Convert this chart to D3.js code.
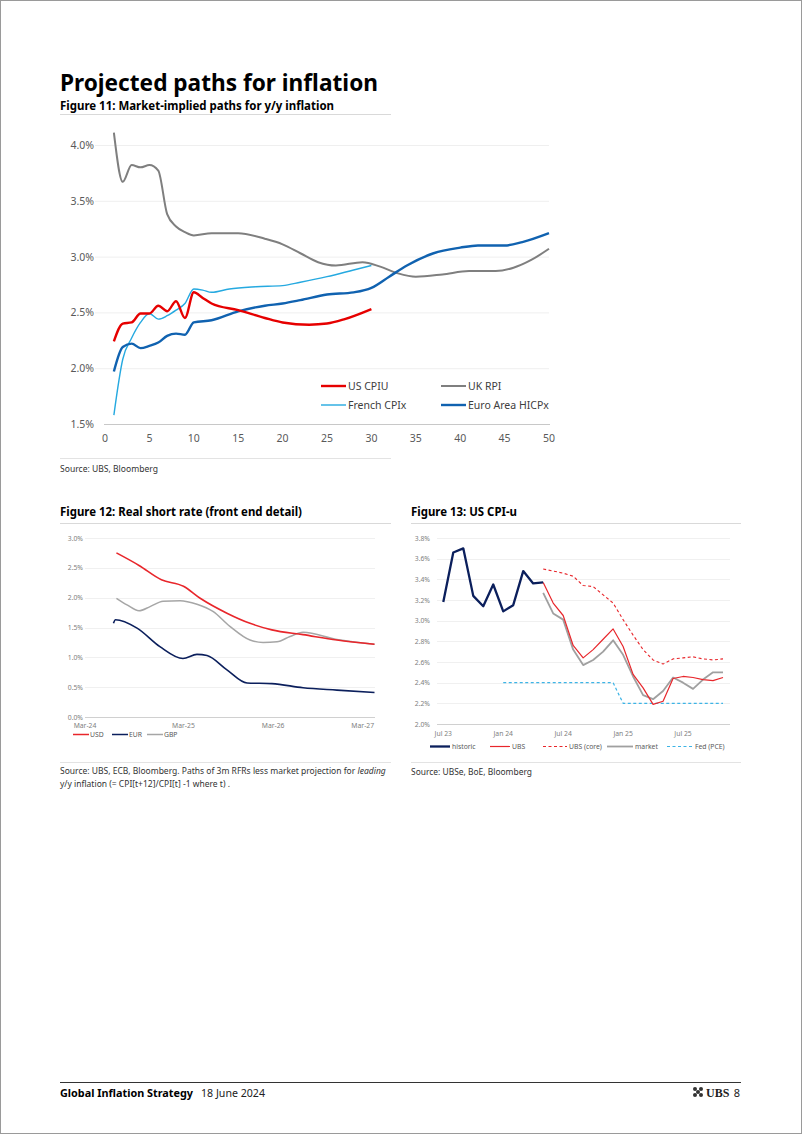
<!DOCTYPE html>
<html><head><meta charset="utf-8">
<script src="https://cdn.jsdelivr.net/npm/d3@7"></script>
<style>
body{margin:0;background:#fff;}
svg{display:block;font-family:"Noto Sans",sans-serif;}
</style></head><body>
<svg id="c" width="802" height="1134"></svg>
<script>
// ---------- Figure 11 data (horizon in years, y/y inflation %) ----------
const usCpiu = [[1,2.24],[2,2.40],[3,2.41],[4,2.49],[5,2.49],[6,2.56],[7,2.51],[8,2.60],[9,2.45],[10,2.68],[11,2.63],[12,2.58],[15,2.52],[18,2.45],[20,2.41],[23,2.39],[25,2.40],[27,2.44],[30,2.53]];
const ukRpi = [[1,4.11],[2,3.67],[3,3.82],[4,3.80],[5,3.82],[6,3.77],[7,3.38],[8,3.27],[9,3.22],[10,3.19],[12,3.21],[15,3.21],[18,3.16],[20,3.11],[22,3.03],[24,2.95],[26,2.92],[29,2.95],[31,2.91],[33,2.85],[35,2.82],[38,2.84],[41,2.87],[44,2.87],[46,2.90],[48,2.97],[50,3.07]];
const frenchCpix = [[1,1.58],[2,2.08],[3,2.27],[4,2.41],[5,2.49],[6,2.44],[7,2.47],[8,2.52],[9,2.58],[10,2.71],[11,2.70],[12,2.68],[14,2.71],[17,2.73],[20,2.74],[22,2.77],[25,2.82],[28,2.88],[30,2.92]];
const euroHicpx = [[1,1.97],[2,2.19],[3,2.22],[4,2.18],[5,2.20],[6,2.23],[7,2.29],[8,2.31],[9,2.30],[10,2.41],[12,2.43],[15,2.51],[18,2.56],[20,2.58],[22,2.61],[25,2.66],[28,2.68],[30,2.72],[32,2.82],[34,2.92],[37,3.03],[40,3.08],[42,3.10],[45,3.10],[47,3.13],[50,3.21]];
const f11XTicks = [0,5,10,15,20,25,30,35,40,45,50];
const f11YTicks = [1.5,2.0,2.5,3.0,3.5,4.0];

// ---------- Figure 12 data (date, real short rate %) ----------
const usdPath = [["2024-06-01",2.75],["2024-09-01",2.54],["2024-12-01",2.30],["2025-03-01",2.19],["2025-05-08",1.99],["2025-08-25",1.74],["2025-11-27",1.57],["2026-02-24",1.46],["2026-07-01",1.38],["2026-11-16",1.29],["2027-04-18",1.22]];
const eurPath = [["2024-05-20",1.57],["2024-05-28",1.63],["2024-08-24",1.49],["2024-11-25",1.18],["2025-02-27",0.98],["2025-04-25",1.05],["2025-06-05",1.03],["2025-08-25",0.79],["2025-11-15",0.57],["2026-02-24",0.56],["2026-07-01",0.49],["2026-11-16",0.45],["2027-04-18",0.41]];
const gbpPath = [["2024-06-01",1.99],["2024-07-14",1.88],["2024-09-01",1.78],["2024-10-16",1.85],["2024-12-08",1.94],["2025-02-15",1.95],["2025-04-25",1.89],["2025-06-29",1.77],["2025-09-06",1.52],["2025-11-27",1.29],["2026-01-19",1.25],["2026-03-17",1.26],["2026-05-09",1.35],["2026-07-01",1.42],["2026-11-16",1.30],["2027-04-18",1.22]];
const f12XTicks = [["2024-03-01","Mar-24"],["2025-03-01","Mar-25"],["2026-03-01","Mar-26"],["2027-03-01","Mar-27"]];
const f12YTicks = [0,0.5,1.0,1.5,2.0,2.5,3.0];

// ---------- Figure 13 data (monthly, Jul 23 .. Nov 25) ----------
const f13Months = ["Jul 23","Aug 23","Sep 23","Oct 23","Nov 23","Dec 23","Jan 24","Feb 24","Mar 24","Apr 24","May 24","Jun 24","Jul 24","Aug 24","Sep 24","Oct 24","Nov 24","Dec 24","Jan 25","Feb 25","Mar 25","Apr 25","May 25","Jun 25","Jul 25","Aug 25","Sep 25","Oct 25","Nov 25"];
const historic = [3.18,3.66,3.70,3.24,3.14,3.35,3.09,3.15,3.48,3.36,3.37];
const ubs = [null,null,null,null,null,null,null,null,null,null,3.37,3.17,3.05,2.76,2.64,2.72,2.82,2.92,2.75,2.48,2.35,2.19,2.22,2.44,2.46,2.45,2.43,2.42,2.45];
const ubsCore = [null,null,null,null,null,null,null,null,null,null,3.50,3.48,3.46,3.43,3.34,3.33,3.25,3.17,3.01,2.86,2.72,2.62,2.58,2.63,2.64,2.65,2.63,2.62,2.63];
const market = [null,null,null,null,null,null,null,null,null,null,3.27,3.07,3.01,2.72,2.57,2.62,2.70,2.81,2.67,2.46,2.28,2.24,2.32,2.45,2.40,2.34,2.43,2.50,2.50];
const fedPce = [null,null,null,null,null,null,2.4,2.4,2.4,2.4,2.4,2.4,2.4,2.4,2.4,2.4,2.4,2.4,2.2,2.2,2.2,2.2,2.2,2.2,2.2,2.2,2.2,2.2,2.2];
const f13XTicks = ["Jul 23","Jan 24","Jul 24","Jan 25","Jul 25"];
const f13YTicks = [2.0,2.2,2.4,2.6,2.8,3.0,3.2,3.4,3.6,3.8];

// ---------- drawing ----------
const svg = d3.select("#c");
svg.append("rect").attr("x",0.5).attr("y",0.5).attr("width",801).attr("height",1133).attr("fill","#fff").attr("stroke","#9a9a9a");

function fit(sel, w){
  const n = sel.node(); const L = n.getComputedTextLength();
  if (L > w) sel.attr("textLength", w).attr("lengthAdjust","spacingAndGlyphs");
  return sel;
}
function hline(x1,x2,y,c,w){ svg.append("line").attr("x1",x1).attr("x2",x2).attr("y1",y).attr("y2",y).attr("stroke",c).attr("stroke-width",w||1); }
function txt(x,y,s,size,opt){
  opt = opt||{};
  const t = svg.append("text").attr("x",x).attr("y",y).text(s).attr("font-size",size)
    .attr("fill",opt.fill||"#000").attr("font-weight",opt.weight||400).attr("text-anchor",opt.anchor||"start");
  if (opt.family) t.attr("font-family",opt.family);
  if (opt.w) fit(t,opt.w);
  return t;
}

// Header
txt(60,90.5,"Projected paths for inflation",24,{weight:700,w:318});
txt(60,109.5,"Figure 11: Market-implied paths for y/y inflation",11.5,{weight:700,w:274});
hline(60,391,114.5,"#d9d9d9",1);

// Figure 11
{
  const x = d3.scaleLinear().domain([0,50]).range([105,549]);
  const y = d3.scaleLinear().domain([1.5,4.0]).range([424,145]);
  const g = svg.append("g");
  g.selectAll(".gr").data(f11YTicks.filter(d=>d>1.5)).join("line")
    .attr("x1",95).attr("x2",549).attr("y1",d=>y(d)+0.5).attr("y2",d=>y(d)+0.5).attr("stroke","#efefef");
  g.append("line").attr("x1",104).attr("x2",550).attr("y1",424.5).attr("y2",424.5).attr("stroke","#c8c8c8").attr("stroke-width",1.2);
  g.selectAll(".yl").data(f11YTicks).join("text").attr("x",94).attr("y",d=>y(d)+4)
    .attr("text-anchor","end").attr("font-size",10.5).attr("fill","#595959").text(d=>d.toFixed(1)+"%");
  g.selectAll(".xl").data(f11XTicks).join("text").attr("x",d=>x(d)).attr("y",442)
    .attr("text-anchor","middle").attr("font-size",10.5).attr("fill","#595959").text(d=>d);
  const line = d3.line().x(d=>x(d[0])).y(d=>y(d[1])).curve(d3.curveMonotoneX);
  const series = [
    {name:"UK RPI",data:ukRpi,color:"#7f7f7f",w:2},
    {name:"French CPIx",data:frenchCpix,color:"#25a9e0",w:1.4},
    {name:"Euro Area HICPx",data:euroHicpx,color:"#1062b0",w:2.4},
    {name:"US CPIU",data:usCpiu,color:"#e60000",w:2.4}
  ];
  g.selectAll(".ln").data(series).join("path").attr("d",d=>line(d.data)).attr("fill","none")
    .attr("stroke",d=>d.color).attr("stroke-width",d=>d.w).attr("stroke-linejoin","round");
  const leg = [
    {s:series[3],x:321,y:386},{s:series[0],x:441,y:386},
    {s:series[1],x:321,y:405},{s:series[2],x:441,y:405}
  ];
  leg.forEach(l=>{
    g.append("line").attr("x1",l.x).attr("x2",l.x+25).attr("y1",l.y).attr("y2",l.y).attr("stroke",l.s.color).attr("stroke-width",l.s.w);
    g.append("text").attr("x",l.x+27).attr("y",l.y+4).attr("font-size",10.5).attr("fill","#404040").text(l.s.name);
  });
}
hline(60,391,458.5,"#e3e3e3",1);
txt(60,472,"Source: UBS, Bloomberg",9,{fill:"#333",w:98});

// Figure 12
txt(60,516,"Figure 12: Real short rate (front end detail)",12,{weight:700,w:242});
hline(60,391,523.5,"#d9d9d9",1);
{
  const pd = d3.timeParse("%Y-%m-%d");
  const x = d3.scaleTime().domain([pd("2024-01-25"),pd("2027-04-20")]).range([85,375]);
  const y = d3.scaleLinear().domain([0,3]).range([717,538]);
  const g = svg.append("g");
  g.selectAll(".gr").data(f12YTicks.filter(d=>d>0)).join("line")
    .attr("x1",85).attr("x2",375).attr("y1",d=>Math.round(y(d))+0.5).attr("y2",d=>Math.round(y(d))+0.5).attr("stroke","#f0f0f0");
  g.append("line").attr("x1",85).attr("x2",375).attr("y1",717.5).attr("y2",717.5).attr("stroke","#d0d0d0");
  g.selectAll(".yl").data(f12YTicks).join("text").attr("x",83).attr("y",d=>y(d)+2.5)
    .attr("text-anchor","end").attr("font-size",6.8).attr("fill","#808080").text(d=>d.toFixed(1)+"%");
  g.selectAll(".xl").data(f12XTicks).join("text").attr("x",(d,i)=>i===0?85:x(pd(d[0]))).attr("y",728)
    .attr("text-anchor","middle").attr("font-size",6.8).attr("fill","#808080").text(d=>d[1]);
  const line = d3.line().x(d=>x(pd(d[0]))).y(d=>y(d[1])).curve(d3.curveMonotoneX);
  const series = [
    {name:"GBP",data:gbpPath,color:"#a6a6a6",w:1.5},
    {name:"EUR",data:eurPath,color:"#0b1f5c",w:1.6},
    {name:"USD",data:usdPath,color:"#e8262b",w:1.6}
  ];
  g.selectAll(".ln").data(series).join("path").attr("d",d=>line(d.data)).attr("fill","none")
    .attr("stroke",d=>d.color).attr("stroke-width",d=>d.w);
  [{s:series[2],x:73},{s:series[1],x:112},{s:series[0],x:147}].forEach(l=>{
    g.append("line").attr("x1",l.x).attr("x2",l.x+16).attr("y1",734.5).attr("y2",734.5).attr("stroke",l.s.color).attr("stroke-width",1.5);
    g.append("text").attr("x",l.x+17).attr("y",737).attr("font-size",6.8).attr("fill","#595959").text(l.s.name);
  });
}
hline(60,391,762.5,"#e3e3e3",1);
{
  const t = svg.append("text").attr("x",60).attr("y",774).attr("font-size",8.5).attr("fill","#333");
  t.append("tspan").text("Source: UBS, ECB, Bloomberg. Paths of 3m RFRs less market projection for ");
  t.append("tspan").attr("font-style","italic").text("leading");
  fit(t,327);
  txt(60,786.8,"y/y inflation (= CPI[t+12]/CPI[t] -1 where t) .",8.5,{fill:"#333",w:183});
}

// Figure 13
txt(411,516,"Figure 13: US CPI-u",12,{weight:700,w:106});
hline(411,741,523.5,"#d9d9d9",1);
{
  const x = d3.scaleLinear().domain([-0.63,28.7]).range([437,730]);
  const y = d3.scaleLinear().domain([2.0,3.8]).range([724,538]);
  const g = svg.append("g");
  g.selectAll(".gr").data(f13YTicks.filter(d=>d>2.0)).join("line")
    .attr("x1",437).attr("x2",730).attr("y1",d=>Math.round(y(d))+0.5).attr("y2",d=>Math.round(y(d))+0.5).attr("stroke","#f0f0f0");
  g.append("line").attr("x1",437).attr("x2",730).attr("y1",724.5).attr("y2",724.5).attr("stroke","#d0d0d0");
  g.selectAll(".yl").data(f13YTicks).join("text").attr("x",430).attr("y",d=>y(d)+2.5)
    .attr("text-anchor","end").attr("font-size",6.8).attr("fill","#808080").text(d=>d.toFixed(1)+"%");
  g.selectAll(".xl").data(f13XTicks).join("text").attr("x",d=>x(f13Months.indexOf(d))).attr("y",736)
    .attr("text-anchor","middle").attr("font-size",6.8).attr("fill","#808080").text(d=>d);
  const mk = arr => d3.line().defined(d=>d!=null).x((d,i)=>x(i)).y(d=>y(d))(arr);
  const series = [
    {name:"Fed (PCE)",data:fedPce,color:"#3db4e6",w:1.2,dash:"3,2.5"},
    {name:"UBS (core)",data:ubsCore,color:"#e8262b",w:1.1,dash:"3,2.5"},
    {name:"market",data:market,color:"#a0a0a0",w:1.8},
    {name:"UBS",data:ubs,color:"#e8262b",w:1.2},
    {name:"historic",data:historic,color:"#0b1f5c",w:2.3}
  ];
  g.selectAll(".ln").data(series).join("path").attr("d",d=>mk(d.data)).attr("fill","none")
    .attr("stroke",d=>d.color).attr("stroke-width",d=>d.w).attr("stroke-dasharray",d=>d.dash||null).attr("stroke-linejoin","round");
  [{s:series[4],x:430,w:20},{s:series[3],x:490,w:20},{s:series[1],x:543,w:24},{s:series[2],x:607,w:26},{s:series[0],x:667,w:26}].forEach(l=>{
    g.append("line").attr("x1",l.x).attr("x2",l.x+l.w).attr("y1",746.5).attr("y2",746.5).attr("stroke",l.s.color)
      .attr("stroke-width",l.s.w).attr("stroke-dasharray",l.s.dash||null);
    g.append("text").attr("x",l.x+l.w+2).attr("y",749).attr("font-size",6.8).attr("fill","#595959").text(l.s.name);
  });
}
hline(411,741,762.5,"#e3e3e3",1);
txt(411,775,"Source: UBSe, BoE, Bloomberg",9,{fill:"#333",w:121});

// Footer
hline(60,741,1082.5,"#333",1);
txt(60,1097,"Global Inflation Strategy",11,{weight:700,w:133});
txt(201,1097,"18 June 2024",11,{fill:"#222",w:64});
{
  const lg = svg.append("g").attr("transform","translate(698,1092)").attr("fill","#333");
  [[-3,-3],[3,-3],[-3,3],[3,3],[0,0]].forEach(p=>lg.append("circle").attr("cx",p[0]).attr("cy",p[1]).attr("r",2));
  txt(706,1097,"UBS",12,{family:"Liberation Serif",weight:700,fill:"#222"});
  txt(740,1097,"8",11,{fill:"#222",anchor:"end"});
}
</script>
</body></html>
